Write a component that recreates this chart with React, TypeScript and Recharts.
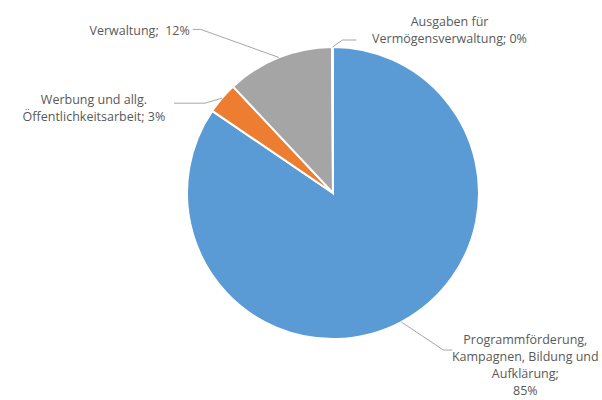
import React from 'react';
import { PieChart, Pie, Cell } from 'recharts';

const categories = [
  'Programmförderung, Kampagnen, Bildung und Aufklärung',
  'Werbung und allg. Öffentlichkeitsarbeit',
  'Verwaltung',
  'Ausgaben für Vermögensverwaltung',
];
const shares = [84.5, 3.5, 11.9, 0.1];
const percentLabels = ['85%', '3%', '12%', '0%'];
const labelLines = [
  ['Programmförderung,', 'Kampagnen, Bildung und', 'Aufklärung;', '85%'],
  ['Werbung und allg.', 'Öffentlichkeitsarbeit; 3%'],
  ['Verwaltung;\u00a0 12%'],
  ['Ausgaben für', 'Vermögensverwaltung; 0%'],
];
const colors = ['#5B9BD5', '#ED7D31', '#A5A5A5', '#FFC000'];

const data = categories.map((name, i) => ({ name, value: shares[i], pct: percentLabels[i] }));

// leader line + text placement, relative to the slice's outer edge point
const labelLayout = [
  { elbow: [42, 28], end: 9, tx: 124, ty: 22, anchor: 'middle' },
  { elbow: [-17, 5], end: -31, tx: -128, ty: 6, anchor: 'middle' },
  { elbow: [-78, -28], end: -8, tx: -89, ty: -22, anchor: 'end' },
  { elbow: [10, -7], end: 14, tx: 117, ty: -21, anchor: 'middle' },
];

const RADIAN = Math.PI / 180;
const textColor = '#595959';
const lineColor = '#A6A6A6';

const renderLabel = (props: any) => {
  const { cx, cy, midAngle, outerRadius, index } = props;
  const ex = cx + outerRadius * Math.cos(-midAngle * RADIAN);
  const ey = cy + outerRadius * Math.sin(-midAngle * RADIAN);
  const l = labelLayout[index];
  const bx = ex + l.elbow[0];
  const by = ey + l.elbow[1];
  const lines = labelLines[index];
  return (
    <g key={`lbl-${index}`}>
      <polyline
        points={`${ex},${ey} ${bx},${by} ${bx + l.end},${by}`}
        fill="none"
        stroke={lineColor}
        strokeWidth={1}
      />
      <text
        x={ex + l.tx}
        y={ey + l.ty}
        textAnchor={l.anchor as any}
        fill={textColor}
        fontSize={12.5}
        fontFamily="'Open Sans', sans-serif"
      >
        {lines.map((s, i) => (
          <tspan key={i} x={ex + l.tx} dy={i === 0 ? 0 : 17}>
            {s}
          </tspan>
        ))}
      </text>
    </g>
  );
};

export default function App() {
  return (
    <div style={{ position: 'absolute', left: 0, top: 0, width: 602, height: 400, background: '#fff' }}>
      <PieChart width={602} height={400}>
        <Pie
          data={data}
          dataKey="value"
          nameKey="name"
          cx={328}
          cy={188}
          outerRadius={146}
          startAngle={90}
          endAngle={-270}
          stroke="#fff"
          strokeWidth={2}
          label={renderLabel}
          labelLine={false}
          isAnimationActive={false}
        >
          {data.map((d, i) => (
            <Cell key={d.name} fill={colors[i]} />
          ))}
        </Pie>
      </PieChart>
    </div>
  );
}
